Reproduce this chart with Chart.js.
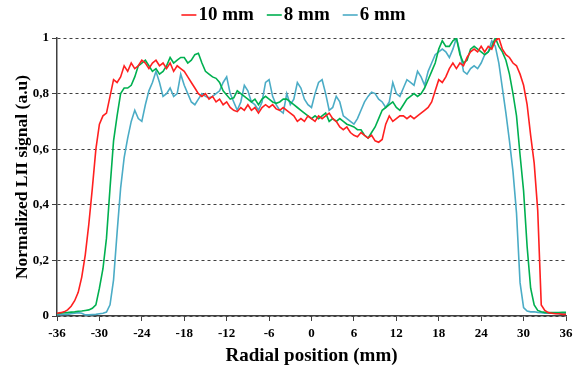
<!DOCTYPE html>
<html>
<head>
<meta charset="utf-8">
<title>Normalized LII signal vs radial position</title>
<script src="https://cdn.jsdelivr.net/npm/chart.js@4.4.1/dist/chart.umd.min.js"></script>
<style>
    html, body { margin: 0; padding: 0; background: #ffffff; }
    #wrap { width: 583px; height: 372px; }
</style>
</head>
<body>
<div id="wrap"><canvas id="liiChart" width="583" height="372"></canvas></div>
<script>
// Radial positions (mm), 0.5 mm step
const radialPos = [
    -36, -35.5, -35, -34.5, -34, -33.5, -33, -32.5, -32, -31.5, -31, -30.5,
    -30, -29.5, -29, -28.5, -28, -27.5, -27, -26.5, -26, -25.5, -25, -24.5,
    -24, -23.5, -23, -22.5, -22, -21.5, -21, -20.5, -20, -19.5, -19, -18.5,
    -18, -17.5, -17, -16.5, -16, -15.5, -15, -14.5, -14, -13.5, -13, -12.5,
    -12, -11.5, -11, -10.5, -10, -9.5, -9, -8.5, -8, -7.5, -7, -6.5,
    -6, -5.5, -5, -4.5, -4, -3.5, -3, -2.5, -2, -1.5, -1, -0.5,
    0, 0.5, 1, 1.5, 2, 2.5, 3, 3.5, 4, 4.5, 5, 5.5,
    6, 6.5, 7, 7.5, 8, 8.5, 9, 9.5, 10, 10.5, 11, 11.5,
    12, 12.5, 13, 13.5, 14, 14.5, 15, 15.5, 16, 16.5, 17, 17.5,
    18, 18.5, 19, 19.5, 20, 20.5, 21, 21.5, 22, 22.5, 23, 23.5,
    24, 24.5, 25, 25.5, 26, 26.5, 27, 27.5, 28, 28.5, 29, 29.5,
    30, 30.5, 31, 31.5, 32, 32.5, 33, 33.5, 34, 34.5, 35, 35.5,
    36
];

// 10 mm
const signal10 = [
    0.010, 0.012, 0.015, 0.022, 0.035, 0.055, 0.085, 0.14, 0.22, 0.33, 0.46, 0.60,
    0.69, 0.72, 0.73, 0.79, 0.85, 0.84, 0.86, 0.90, 0.88, 0.91, 0.89, 0.90,
    0.92, 0.91, 0.89, 0.91, 0.92, 0.90, 0.91, 0.89, 0.91, 0.88, 0.90, 0.89,
    0.88, 0.86, 0.84, 0.82, 0.80, 0.79, 0.80, 0.78, 0.79, 0.77, 0.78, 0.76,
    0.77, 0.75, 0.74, 0.735, 0.75, 0.74, 0.76, 0.74, 0.75, 0.73, 0.75, 0.76,
    0.75, 0.76, 0.745, 0.74, 0.75, 0.74, 0.73, 0.72, 0.70, 0.71, 0.70, 0.72,
    0.71, 0.70, 0.72, 0.71, 0.72, 0.73, 0.71, 0.70, 0.68, 0.67, 0.68, 0.66,
    0.65, 0.645, 0.66, 0.65, 0.64, 0.65, 0.63, 0.625, 0.635, 0.69, 0.72, 0.70,
    0.71, 0.72, 0.72, 0.71, 0.72, 0.71, 0.72, 0.73, 0.74, 0.75, 0.77, 0.81,
    0.85, 0.84, 0.86, 0.89, 0.91, 0.89, 0.91, 0.90, 0.93, 0.95, 0.96, 0.95,
    0.97, 0.95, 0.97, 0.96, 0.99, 1.00, 0.96, 0.94, 0.93, 0.91, 0.90, 0.87,
    0.83, 0.76, 0.65, 0.55, 0.38, 0.04, 0.02, 0.012, 0.010, 0.008, 0.008, 0.006,
    0.006
];

// 8 mm
const signal8 = [
    0.008, 0.010, 0.012, 0.012, 0.014, 0.015, 0.017, 0.018, 0.020, 0.022, 0.028, 0.040,
    0.10, 0.17, 0.28, 0.46, 0.63, 0.72, 0.80, 0.82, 0.82, 0.83, 0.86, 0.90,
    0.91, 0.92, 0.90, 0.88, 0.89, 0.87, 0.88, 0.90, 0.93, 0.91, 0.92, 0.93,
    0.93, 0.91, 0.92, 0.94, 0.945, 0.91, 0.88, 0.87, 0.86, 0.855, 0.84, 0.81,
    0.795, 0.78, 0.785, 0.81, 0.80, 0.79, 0.78, 0.77, 0.78, 0.76, 0.78, 0.79,
    0.78, 0.77, 0.765, 0.77, 0.78, 0.78, 0.77, 0.76, 0.75, 0.74, 0.73, 0.72,
    0.71, 0.72, 0.71, 0.72, 0.73, 0.70, 0.71, 0.70, 0.71, 0.70, 0.69, 0.685,
    0.68, 0.67, 0.67, 0.65, 0.64, 0.66, 0.68, 0.71, 0.74, 0.75, 0.76, 0.77,
    0.75, 0.74, 0.76, 0.78, 0.79, 0.80, 0.79, 0.80, 0.82, 0.85, 0.88, 0.91,
    0.96, 0.99, 0.97, 0.97, 0.99, 1.00, 0.94, 0.91, 0.92, 0.96, 0.97, 0.96,
    0.95, 0.94, 0.95, 0.97, 1.00, 0.97, 0.95, 0.92, 0.87, 0.80, 0.72, 0.58,
    0.45, 0.25, 0.10, 0.04, 0.020, 0.015, 0.013, 0.012, 0.012, 0.012, 0.012, 0.013,
    0.013
];

// 6 mm
const signal6 = [
    0.005, 0.005, 0.006, 0.006, 0.008, 0.010, 0.012, 0.010, 0.004, 0.004, 0.005, 0.006,
    0.008, 0.010, 0.014, 0.04, 0.13, 0.30, 0.46, 0.57, 0.64, 0.70, 0.74, 0.71,
    0.70, 0.76, 0.81, 0.84, 0.88, 0.84, 0.79, 0.80, 0.82, 0.79, 0.80, 0.87,
    0.83, 0.80, 0.77, 0.76, 0.78, 0.80, 0.79, 0.785, 0.79, 0.80, 0.81, 0.84,
    0.86, 0.80, 0.77, 0.74, 0.77, 0.83, 0.81, 0.77, 0.76, 0.74, 0.77, 0.84,
    0.85, 0.79, 0.76, 0.74, 0.73, 0.80, 0.76, 0.78, 0.84, 0.82, 0.78, 0.76,
    0.75, 0.80, 0.84, 0.85, 0.80, 0.74, 0.75, 0.79, 0.77, 0.72, 0.71, 0.70,
    0.69, 0.71, 0.74, 0.77, 0.79, 0.805, 0.80, 0.78, 0.77, 0.75, 0.77, 0.84,
    0.80, 0.79, 0.82, 0.85, 0.84, 0.83, 0.88, 0.86, 0.83, 0.88, 0.91, 0.94,
    0.95, 0.96, 0.95, 0.93, 0.96, 1.00, 0.95, 0.88, 0.87, 0.89, 0.90, 0.89,
    0.91, 0.94, 0.95, 0.99, 0.97, 0.91, 0.82, 0.73, 0.63, 0.52, 0.37, 0.12,
    0.03, 0.018, 0.015, 0.015, 0.013, 0.012, 0.010, 0.010, 0.010, 0.010, 0.008, 0.008,
    0.008
];

const seriesNames = ['10 mm', '8 mm', '6 mm'];
const seriesColors = ['#ff2020', '#00b050', '#4bacc6'];
const xTicks = [-36, -30, -24, -18, -12, -6, 0, 6, 12, 18, 24, 30, 36];
const yTicks = [0, 0.2, 0.4, 0.6, 0.8, 1];

const serifFamily = '"Liberation Serif", "Times New Roman", serif';
const serifBold = { family: serifFamily, weight: 'bold' };

function toPoints(values) {
    return radialPos.map((x, i) => ({ x: x, y: values[i] }));
}

// Legend drawn by hand: short line right before the label, like the original
const topLegend = {
    id: 'topLegend',
    afterDraw(chart) {
        const ctx = chart.ctx;
        const lineLen = 15, gap = 2, itemGap = 13, y = 15;
        ctx.save();
        ctx.font = 'bold 19px ' + serifFamily;
        ctx.textBaseline = 'middle';
        ctx.textAlign = 'left';
        const widths = chart.data.datasets.map(ds => ctx.measureText(ds.label).width);
        let total = 0;
        widths.forEach(w => { total += lineLen + gap + w; });
        total += itemGap * (widths.length - 1);
        let x = chart.width / 2 + 2 - total / 2;
        chart.data.datasets.forEach((ds, i) => {
            ctx.strokeStyle = ds.borderColor;
            ctx.lineWidth = 1.6;
            ctx.beginPath();
            ctx.moveTo(x, y);
            ctx.lineTo(x + lineLen, y);
            ctx.stroke();
            ctx.fillStyle = '#000';
            ctx.fillText(ds.label, x + lineLen + gap, y);
            x += lineLen + gap + widths[i] + itemGap;
        });
        ctx.restore();
    }
};

function initializeLiiChart() {
    const ctx = document.getElementById('liiChart');
    if (!ctx) {
        console.error('Chart canvas not found');
        return;
    }

    const allSignals = [signal10, signal8, signal6];

    return new Chart(ctx.getContext('2d'), {
        type: 'line',
        data: {
            datasets: allSignals.map((values, i) => ({
                label: seriesNames[i],
                data: toPoints(values),
                borderColor: seriesColors[i],
                backgroundColor: seriesColors[i],
                borderWidth: 1.6,
                pointRadius: 0,
                tension: 0,
                fill: false
            }))
        },
        plugins: [topLegend],
        options: {
            responsive: false,
            animation: false,
            layout: {
                padding: { left: 12, right: 17, top: 38, bottom: 5 }
            },
            plugins: {
                legend: { display: false },
                tooltip: { enabled: false }
            },
            scales: {
                x: {
                    type: 'linear',
                    min: -36,
                    max: 36,
                    afterBuildTicks: function(scale) {
                        scale.ticks = xTicks.map(v => ({ value: v }));
                    },
                    afterFit: function(scale) {
                        scale.height = 51;
                    },
                    grid: {
                        drawOnChartArea: false,
                        drawTicks: true,
                        tickLength: 5,
                        tickColor: '#404040'
                    },
                    border: { display: true, color: '#404040', width: 1.5 },
                    ticks: {
                        color: '#000',
                        padding: 5,
                        maxRotation: 0,
                        font: { ...serifBold, size: 13 },
                        callback: function(value) {
                            return String(value);
                        }
                    },
                    title: {
                        display: true,
                        text: 'Radial position (mm)',
                        color: '#000',
                        padding: { top: 2, bottom: 0 },
                        font: { ...serifBold, size: 19 }
                    }
                },
                y: {
                    type: 'linear',
                    min: 0,
                    max: 1,
                    afterBuildTicks: function(scale) {
                        scale.ticks = yTicks.map(v => ({ value: v }));
                    },
                    afterFit: function(scale) {
                        scale.width = 45;
                    },
                    grid: {
                        drawOnChartArea: true,
                        color: '#404040',
                        lineWidth: 1,
                        drawTicks: true,
                        tickLength: 5,
                        tickColor: '#404040'
                    },
                    border: { display: true, color: '#404040', width: 1.5, dash: [3, 3] },
                    ticks: {
                        color: '#000',
                        padding: 3,
                        font: { ...serifBold, size: 13 },
                        callback: function(value) {
                            return String(Math.round(value * 10) / 10).replace('.', ',');
                        }
                    },
                    title: {
                        display: true,
                        text: 'Normalized LII signal (a.u)',
                        color: '#000',
                        padding: { top: 0, bottom: 2 },
                        font: { ...serifBold, size: 17.5 }
                    }
                }
            }
        }
    });
}

document.addEventListener('DOMContentLoaded', function() {
    initializeLiiChart();
});
</script>
</body>
</html>
